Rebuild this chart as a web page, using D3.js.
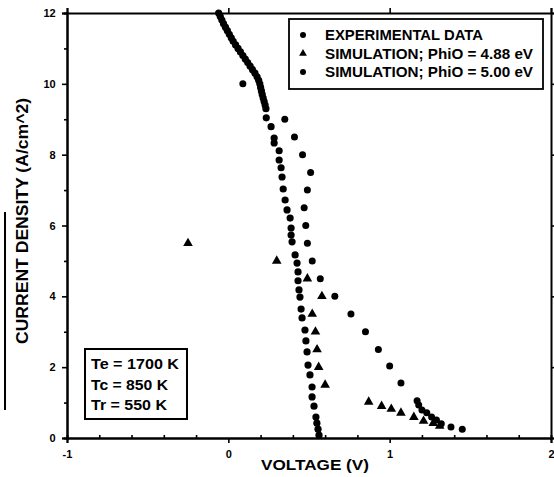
<!DOCTYPE html>
<html>
<head>
<meta charset="utf-8">
<script src="https://cdn.jsdelivr.net/npm/d3@7/dist/d3.min.js"></script>
<style>
  html, body { margin: 0; padding: 0; background: #fff; }
  svg { display: block; }
  text { font-family: "Liberation Sans Narrow", "Arial Narrow", "Liberation Sans", Arial, sans-serif; font-weight: bold; fill: #000; }
</style>
</head>
<body>
<svg id="chart" width="554" height="477"></svg>
<script>
// Measured J-V curve: [voltage (V), current density (A/cm^2)]
const experimentalData = [
  [-0.060, 12.0], [-0.050, 11.9], [-0.040, 11.8], [-0.030, 11.7], [-0.018, 11.6],
  [-0.006, 11.5], [0.006, 11.4], [0.018, 11.3], [0.030, 11.2], [0.045, 11.1],
  [0.060, 11.0], [0.075, 10.9], [0.090, 10.8], [0.105, 10.7], [0.120, 10.6],
  [0.135, 10.5], [0.150, 10.4], [0.165, 10.3], [0.178, 10.2], [0.188, 10.1],
  [0.195, 10.0], [0.200, 9.9], [0.205, 9.8], [0.210, 9.7], [0.216, 9.6],
  [0.222, 9.5], [0.228, 9.4], [0.233, 9.3], [0.235, 9.04],
  [0.265, 8.79], [0.284, 8.47], [0.284, 8.33], [0.315, 8.11], [0.315, 7.85],
  [0.327, 7.63], [0.333, 7.37], [0.340, 7.03], [0.352, 6.72], [0.364, 6.44],
  [0.383, 6.21], [0.389, 5.93], [0.389, 5.73], [0.395, 5.54], [0.414, 5.17],
  [0.426, 4.94], [0.432, 4.69], [0.432, 4.44], [0.438, 4.18], [0.444, 3.98],
  [0.451, 3.64], [0.457, 3.39], [0.475, 3.05], [0.481, 2.74], [0.488, 2.43],
  [0.494, 2.06], [0.506, 1.78], [0.519, 1.44], [0.519, 1.16], [0.531, 0.90],
  [0.543, 0.59], [0.549, 0.42], [0.556, 0.25], [0.562, 0.08]
];

// Simulation with PhiO = 4.88 eV
const simulation488 = [
  [-0.25, 5.5], [0.30, 5.0], [0.49, 4.5], [0.58, 4.0], [0.52, 3.5], [0.54, 3.0],
  [0.55, 2.5], [0.56, 2.0], [0.60, 1.5], [0.87, 1.02], [0.95, 0.90], [1.01, 0.82],
  [1.07, 0.71], [1.15, 0.59], [1.21, 0.48], [1.27, 0.42], [1.31, 0.34]
];

// Simulation with PhiO = 5.00 eV
const simulation500 = [
  [0.09, 10.0], [0.35, 9.0], [0.41, 8.5], [0.46, 8.0], [0.51, 7.5], [0.49, 7.0],
  [0.47, 6.5], [0.48, 6.0], [0.49, 5.5], [0.52, 5.0], [0.57, 4.5], [0.66, 4.0],
  [0.76, 3.5], [0.85, 3.0], [0.93, 2.5], [1.00, 2.03], [1.07, 1.55], [1.17, 1.05],
  [1.18, 0.93], [1.20, 0.79], [1.23, 0.71], [1.26, 0.59], [1.29, 0.51], [1.32, 0.40],
  [1.38, 0.31], [1.45, 0.25]
];

const xTicks = [-1, 0, 1, 2];
const xTickLabels = ["-1", "0", "1", "2"];
const yTicks = [0, 2, 4, 6, 8, 10, 12];
const legendLabels = ["EXPERIMENTAL DATA", "SIMULATION; PhiO = 4.88 eV", "SIMULATION; PhiO = 5.00 eV"];
const legendShapes = ["circle", "triangle", "circle"];
const conditionLabels = ["Te = 1700 K", "Tc = 850 K", "Tr = 550 K"];

const svg = d3.select("#chart");
const plotLeft = 67, plotRight = 551, plotTop = 13, plotBottom = 438;

const x = d3.scaleLinear().domain([-1, 2]).range([plotLeft, plotRight]);
const y = d3.scaleLinear().domain([0, 12]).range([plotBottom, plotTop]);

// axes (all four sides)
const xMinorTicks = d3.range(-0.8, 2, 0.2).filter(v => Math.abs(v - Math.round(v)) > 0.01);
const gx = svg.append("g").attr("transform", `translate(0,${plotBottom})`)
  .call(d3.axisBottom(x).tickValues(xTicks).tickSize(5).tickFormat((d, i) => xTickLabels[i]));
const gxMinor = svg.append("g").attr("transform", `translate(0,${plotBottom})`)
  .call(d3.axisBottom(x).tickValues(xMinorTicks).tickSize(-3).tickFormat(""));
const gxTop = svg.append("g").attr("transform", `translate(0,${plotTop})`)
  .call(d3.axisTop(x).tickValues(xTicks).tickSize(5).tickFormat(""));
const gy = svg.append("g").attr("transform", `translate(${plotLeft},0)`)
  .call(d3.axisLeft(y).tickValues(yTicks).tickSize(5));
const gyMinor = svg.append("g").attr("transform", `translate(${plotLeft},0)`)
  .call(d3.axisLeft(y).tickValues([1, 3, 5, 7, 9, 11]).tickSize(3).tickFormat(""));
const gyRight = svg.append("g").attr("transform", `translate(${plotRight},0)`)
  .call(d3.axisRight(y).tickValues(yTicks).tickSize(4).tickFormat(""));

[gx, gxMinor, gxTop, gy, gyMinor, gyRight].forEach(g => {
  g.select(".domain").attr("stroke", "#000").attr("stroke-width", 2);
  g.selectAll(".tick line").attr("stroke", "#000").attr("stroke-width", 1.6);
});
gx.selectAll(".tick text").attr("font-size", 11).attr("dy", "1.1em")
  .style("font-family", "'Liberation Sans', Arial, sans-serif").style("font-weight", "bold");
gy.selectAll(".tick text").attr("font-size", 11).attr("dx", "-0.3em")
  .style("font-family", "'Liberation Sans', Arial, sans-serif").style("font-weight", "bold");

// axis titles
svg.append("text")
  .attr("x", 315).attr("y", 470)
  .attr("text-anchor", "middle")
  .attr("font-size", 14)
  .style("font-family", "'Liberation Sans', Arial, sans-serif")
  .attr("textLength", 108).attr("lengthAdjust", "spacingAndGlyphs")
  .text("VOLTAGE (V)");

svg.append("text")
  .attr("transform", "translate(28,221) rotate(-90)")
  .attr("text-anchor", "middle")
  .attr("font-size", 16)
  .style("font-family", "'Liberation Sans', Arial, sans-serif")
  .attr("textLength", 246).attr("lengthAdjust", "spacingAndGlyphs")
  .text("CURRENT DENSITY (A/cm^2)");

// margin bar beside the axis title
svg.append("line")
  .attr("x1", 5).attr("x2", 5).attr("y1", 212).attr("y2", 410)
  .attr("stroke", "#000").attr("stroke-width", 2);

// markers
const triangle = d3.symbol().type(d3.symbolTriangle).size(40);
const plot = svg.append("g");

plot.selectAll("circle.exp").data(experimentalData).join("circle")
  .attr("class", "exp")
  .attr("cx", d => x(d[0])).attr("cy", d => y(d[1]))
  .attr("r", 3.6).attr("fill", "#000");

plot.selectAll("path.sim488").data(simulation488).join("path")
  .attr("class", "sim488")
  .attr("d", triangle)
  .attr("transform", d => `translate(${x(d[0])},${y(d[1])})`)
  .attr("fill", "#000");

plot.selectAll("circle.sim500").data(simulation500).join("circle")
  .attr("class", "sim500")
  .attr("cx", d => x(d[0])).attr("cy", d => y(d[1]))
  .attr("r", 3.5).attr("fill", "#000");

// legend
const legend = svg.append("g");
legend.append("rect")
  .attr("x", 289).attr("y", 19).attr("width", 254).attr("height", 70)
  .attr("fill", "#fff").attr("stroke", "#000").attr("stroke-width", 1.8);
const legendWidths = [158, 208, 208];
legendLabels.forEach((label, i) => {
  const cy = 35 + i * 18.5;
  if (legendShapes[i] === "triangle") {
    legend.append("path").attr("d", d3.symbol().type(d3.symbolTriangle).size(26))
      .attr("transform", `translate(303,${cy})`).attr("fill", "#000");
  } else {
    legend.append("circle").attr("cx", 303).attr("cy", cy).attr("r", 3).attr("fill", "#000");
  }
  legend.append("text")
    .attr("x", 325).attr("y", cy + 5)
    .attr("font-size", 14)
    .attr("textLength", legendWidths[i]).attr("lengthAdjust", "spacingAndGlyphs")
    .text(label);
});

// operating temperatures box
const cond = svg.append("g");
cond.append("rect")
  .attr("x", 85).attr("y", 349).attr("width", 102).attr("height", 70)
  .attr("fill", "#fff").attr("stroke", "#000").attr("stroke-width", 2);
const condWidths = [88, 77, 76];
conditionLabels.forEach((label, i) => {
  cond.append("text")
    .attr("x", 91).attr("y", 369 + i * 20.5)
    .attr("font-size", 15)
    .attr("textLength", condWidths[i]).attr("lengthAdjust", "spacingAndGlyphs")
    .text(label);
});
</script>
</body>
</html>
